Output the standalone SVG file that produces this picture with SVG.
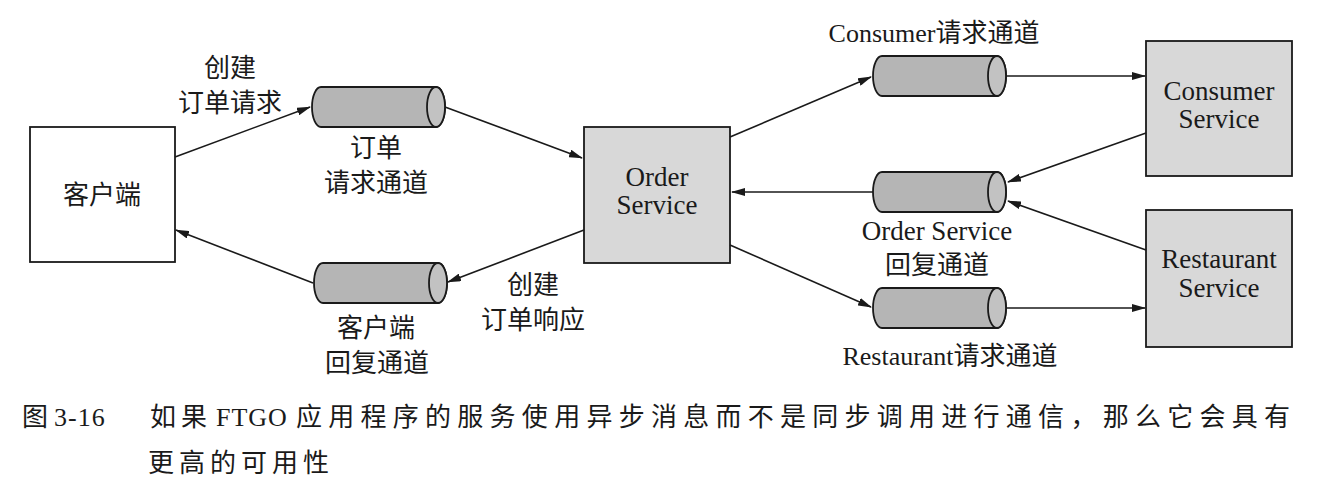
<svg xmlns="http://www.w3.org/2000/svg" width="1322" height="490" viewBox="0 0 1322 490">
<defs>
<marker id="arr" viewBox="0 0 14 8" refX="13" refY="4" markerWidth="14" markerHeight="8" markerUnits="userSpaceOnUse" orient="auto">
<path d="M0,0 L14,4 L0,8 Z" fill="#1a1a1a"/>
</marker>
<g id="cyl">
<path d="M9,0 L124,0 A9 20 0 0 1 124,40 L9,40 A9 20 0 0 1 9,0 Z" fill="#b5b5b5" stroke="#1a1a1a" stroke-width="1.8"/>
<ellipse cx="124" cy="20" rx="9" ry="20" fill="#c2c2c2" stroke="#1a1a1a" stroke-width="1.8"/>
</g>
</defs>
<style>
.t{font-family:"Liberation Serif","Noto Sans CJK SC",serif;font-size:26px;fill:#1a1a1a;text-anchor:middle}
.l{font-size:27px}
.cap{font-family:"Liberation Serif","Noto Sans CJK SC",serif;font-size:26px;fill:#1a1a1a}
.box{stroke:#1a1a1a;stroke-width:1.8}
.svc{fill:#d8d8d8}
.c{stroke:#1a1a1a;stroke-width:1.6;fill:none;marker-end:url(#arr)}
</style>
<rect width="1322" height="490" fill="#ffffff"/>

<g id="client">
<rect class="box" x="30" y="127" width="145" height="135" fill="#ffffff"/>
<text class="t" x="102" y="204">客户端</text>
</g>

<g id="order-request-channel">
<use href="#cyl" x="312" y="87"/>
<text class="t" x="376" y="157">订单</text>
<text class="t" x="376" y="192">请求通道</text>
</g>

<g id="client-reply-channel">
<use href="#cyl" x="314" y="263"/>
<text class="t" x="376" y="337">客户端</text>
<text class="t" x="377" y="372">回复通道</text>
</g>

<g id="order-service">
<rect class="box svc" x="584" y="127" width="146" height="136"/>
<text class="t l" x="657" y="186">Order</text>
<text class="t l" x="657" y="214">Service</text>
</g>

<g id="consumer-request-channel">
<use href="#cyl" x="873" y="56"/>
<text class="t" x="934" y="42">Consumer请求通道</text>
</g>

<g id="order-service-reply-channel">
<use href="#cyl" x="873" y="172"/>
<text class="t l" x="937" y="240">Order Service</text>
<text class="t" x="937" y="274">回复通道</text>
</g>

<g id="restaurant-request-channel">
<use href="#cyl" x="873" y="288"/>
<text class="t" x="950" y="365">Restaurant请求通道</text>
</g>

<g id="consumer-service">
<rect class="box svc" x="1146" y="41" width="146" height="135"/>
<text class="t l" x="1219" y="100">Consumer</text>
<text class="t l" x="1219" y="128">Service</text>
</g>

<g id="restaurant-service">
<rect class="box svc" x="1146" y="210" width="146" height="137"/>
<text class="t l" x="1219" y="268">Restaurant</text>
<text class="t l" x="1219" y="297">Service</text>
</g>

<g id="connectors">
<line class="c" x1="175" y1="157" x2="310" y2="107"/>
<line class="c" x1="313" y1="283" x2="176" y2="230"/>
<line class="c" x1="445" y1="107" x2="582" y2="158"/>
<line class="c" x1="584" y1="230" x2="448" y2="282"/>
<line class="c" x1="730" y1="137" x2="871" y2="77"/>
<line class="c" x1="873" y1="192" x2="732" y2="192"/>
<line class="c" x1="730" y1="245" x2="871" y2="307"/>
<line class="c" x1="1006" y1="76" x2="1145" y2="76"/>
<line class="c" x1="1146" y1="133" x2="1008" y2="182"/>
<line class="c" x1="1146" y1="250" x2="1008" y2="201"/>
<line class="c" x1="1006" y1="308" x2="1145" y2="308"/>
</g>

<g id="labels">
<text class="t" x="230" y="77">创建</text>
<text class="t" x="230" y="112">订单请求</text>
<text class="t" x="533" y="294">创建</text>
<text class="t" x="533" y="329">订单响应</text>
</g>

<g id="caption">
<text class="cap" y="426"><tspan x="22">图</tspan><tspan x="54" letter-spacing="1">3-16</tspan><tspan x="150" letter-spacing="5">如果</tspan><tspan x="216" letter-spacing="1">FTGO</tspan><tspan x="296" textLength="994" lengthAdjust="spacing">应用程序的服务使用异步消息而不是同步调用进行通信，那么它会具有</tspan></text>
<text class="cap" x="148" y="472" letter-spacing="5">更高的可用性</text>
</g>
</svg>
